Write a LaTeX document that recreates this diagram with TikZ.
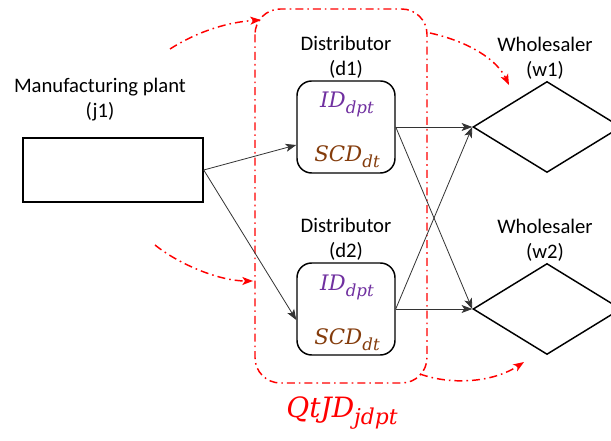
\documentclass[tikz,border=0pt]{standalone}
\usepackage{fontspec}
\setmainfont{Carlito}
\newfontfamily\mvarfont{DejaVu Serif}
\usetikzlibrary{shapes.geometric,arrows.meta,calc}
\definecolor{idpurple}{HTML}{7030A0}
\definecolor{scdbrown}{HTML}{843C0C}
\newcommand\mvar[2]{{\mvarfont\itshape #1\raisebox{-0.28em}{\fontsize{0.78em}{1em}\selectfont #2}}}
\begin{document}
\begin{tikzpicture}[x=0.75pt,y=-0.75pt,
  lbl/.style={font=\fontsize{15.5pt}{18.6pt}\selectfont, align=center, inner sep=0},
  plantbox/.style={draw, line width=1.1pt, minimum width=135pt, minimum height=48pt, inner sep=0},
  distbox/.style={draw, line width=1.1pt, rounded corners=11pt, minimum width=73.5pt, minimum height=69pt, inner sep=0},
  whdia/.style={draw, diamond, line width=1.1pt, minimum width=111pt, minimum height=68.25pt, inner sep=0},
  flow/.style={-{Stealth[length=8pt,width=6pt,inset=2pt]}, line width=0.6pt, draw=black!80},
  redflow/.style={-{Stealth[length=8pt,width=6pt,inset=2pt]}, red, line width=1.1pt, dash pattern=on 6pt off 3pt on 1.2pt off 3pt},
  mathlbl/.style={inner sep=0, font=\fontsize{16pt}{19pt}\selectfont}]
\clip (0,0) rectangle (611,441);
\fill[white] (0,0) rectangle (611,441);

% red group box
\draw[red, line width=1.1pt, dash pattern=on 6pt off 3pt on 1.2pt off 3pt, rounded corners=19pt] (255,9) rectangle (427,383);
\node[text=red, inner sep=0, font=\fontsize{21pt}{25pt}\selectfont] (q) at (342,413) {\mvar{QtJD}{jdpt}};

% nodes
\node[plantbox] (j1) at (113,170) {};
\node[lbl] (j1l) at (100,100) {Manufacturing plant\\(j1)};

\node[distbox] (d1) at (346,127) {};
\node[lbl] (d1l) at (346,57) {Distributor\\(d1)};
\node[mathlbl, text=idpurple] (d1a) at (347,104) {\mvar{ID}{dpt}};
\node[mathlbl, text=scdbrown] (d1b) at (347,157) {\mvar{SCD}{dt}};

\node[distbox] (d2) at (346,309) {};
\node[lbl] (d2l) at (346,239) {Distributor\\(d2)};
\node[mathlbl, text=idpurple] (d2a) at (347,287) {\mvar{ID}{dpt}};
\node[mathlbl, text=scdbrown] (d2b) at (347,340) {\mvar{SCD}{dt}};

\node[whdia] (w1) at (547,127) {};
\node[lbl] (w1l) at (545,58) {Wholesaler\\(w1)};
\node[whdia] (w2) at (547,309) {};
\node[lbl] (w2l) at (545,240) {Wholesaler\\(w2)};

% black flows
\draw[flow] (j1.east) -- ($(d1.west)+(0,18)$);
\draw[flow] (j1.east) -- ($(d2.west)+(0,11)$);
\draw[flow] (d1.east) -- (w1.west);
\draw[flow] (d1.east) -- (w2.west);
\draw[flow] (d2.east) -- (w1.west);
\draw[flow] (d2.east) -- (w2.west);

% red flows
\coordinate (r1s) at (170,49); \coordinate (r1e) at (261,20);
\coordinate (r2s) at (430,33); \coordinate (r2e) at (509,85);
\coordinate (r3s) at (155,245); \coordinate (r3e) at (253,281);
\coordinate (r4s) at (420,374); \coordinate (r4e) at (524,362);
\draw[redflow] (r1s) .. controls (200,30) and (230,22) .. (r1e);
\draw[redflow] (r2s) .. controls (470,42) and (497,60) .. (r2e);
\draw[redflow] (r3s) .. controls (180,265) and (220,281) .. (r3e);
\draw[redflow] (r4s) .. controls (450,385) and (492,383) .. (r4e);
\end{tikzpicture}
\end{document}
